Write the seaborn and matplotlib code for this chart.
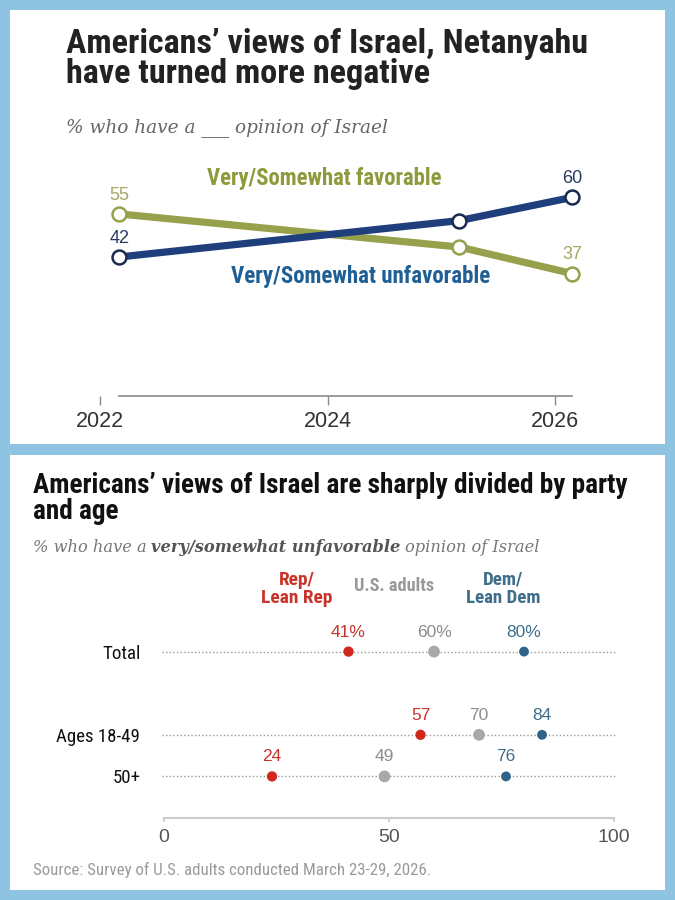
import numpy as np
import pandas as pd
import seaborn as sns
import matplotlib.pyplot as plt
from matplotlib.patches import Rectangle
from matplotlib import font_manager as fm

# ---- top chart: favorable / unfavorable over time
years = [2022.17, 2025.16, 2026.15]
favorable = [55, 45, 37]
unfavorable = [42, 53, 60]
year_ticks = [2022, 2024, 2026]

# ---- bottom chart: unfavorable by party and age
rows = ['Total', 'Ages 18-49', '50+']
groups = ['Rep/Lean Rep', 'U.S. adults', 'Dem/Lean Dem']
rep = [41, 57, 24]
adults = [60, 70, 49]
dem = [80, 84, 76]
x_ticks = [0, 50, 100]

sns.set_theme(style='white')
plt.rcParams['font.family'] = ['Liberation Sans', 'DejaVu Sans']

# pick a condensed sans for titles / labels if one is installed
fonts = fm.fontManager.ttflist
def have(name, stretch=None):
    return any(f.name == name and (stretch is None or f.stretch == stretch) for f in fonts)

if have('Liberation Sans Narrow'):
    narrow = dict(family='Liberation Sans Narrow')
elif have('Roboto Condensed'):
    narrow = dict(family='Roboto Condensed')
elif have('DejaVu Sans', 'condensed'):
    narrow = dict(family='DejaVu Sans', stretch='condensed')
elif have('DejaVu Sans Condensed'):
    narrow = dict(family='DejaVu Sans Condensed')
else:
    narrow = dict(family='Liberation Sans')

W, H = 675, 900
bg = '#8EC4E2'
olive = '#97A04A'
navy = '#1F3E7C'
serif = 'DejaVu Serif'

def box(left, top, right, bottom):
    # pixel box -> figure fraction
    return [left / W, 1 - bottom / H, (right - left) / W, (bottom - top) / H]

def ftext(px, py, s, **kw):
    return fig.text(px / W, 1 - py / H, s, **kw)

fig = plt.figure(figsize=(6.75, 9), dpi=100)
fig.patch.set_facecolor(bg)
renderer = fig.canvas.get_renderer()

def fit(t, width_px):
    # scale font so the text is as wide as in the reference
    w = t.get_window_extent(renderer).width
    t.set_fontsize(t.get_fontsize() * width_px / w)
    return t.get_fontsize()

def fit_size(s, width_px, size=12, **kw):
    t = fig.text(0, 0, s, size=size, **kw)
    out = fit(t, width_px)
    t.remove()
    return out

for top, bottom in [(10, 444), (455, 890)]:
    fig.add_artist(Rectangle((10 / W, 1 - bottom / H), 655 / W, (bottom - top) / H,
                             transform=fig.transFigure, facecolor='white',
                             edgecolor='none', zorder=-5))

# ================= top panel =================
t = ftext(66, 53, 'Americans\u2019 views of Israel, Netanyahu', size=21, weight='bold',
          color='#222222', va='baseline', **narrow)
title_size = fit(t, 521)
ftext(66, 83, 'have turned more negative', size=title_size, weight='bold',
      color='#222222', va='baseline', **narrow)
ftext(66, 132, '% who have a ___ opinion of Israel', size=13.3, style='italic',
      family=serif, color='#666666', va='baseline')

px_per_year = 113.75
ax1 = fig.add_axes(box(60, 396 - 70 * 3.31, 620, 396))
ax1.set_facecolor('none')
sns.lineplot(x=years, y=favorable, ax=ax1, color=olive, lw=5.2, marker='o',
             markersize=10, markerfacecolor='white', markeredgecolor=olive,
             markeredgewidth=1.8, zorder=2, clip_on=False)
sns.lineplot(x=years, y=unfavorable, ax=ax1, color=navy, lw=5.2, marker='o',
             markersize=10, markerfacecolor='white', markeredgecolor='#1B2A4E',
             markeredgewidth=1.8, zorder=3, clip_on=False)
ax1.set_xlim(2022 - 40 / px_per_year, 2022 + 520 / px_per_year)
ax1.set_ylim(0, 70)
ax1.set_xticks(year_ticks)
ax1.set_xticklabels([str(y) for y in year_ticks])
ax1.set_yticks([])
for s in ['top', 'right', 'left']:
    ax1.spines[s].set_visible(False)
ax1.spines['bottom'].set_bounds(years[0], years[-1])
ax1.spines['bottom'].set_color('#8a8a8a')
ax1.spines['bottom'].set_linewidth(1.2)
ax1.tick_params(axis='x', bottom=True, direction='out', length=6.5, width=1,
                color='#8a8a8a', pad=4, labelsize=15.5, labelcolor='#333333')

for i in [0, len(years) - 1]:
    ax1.annotate(str(favorable[i]), (years[i], favorable[i]), xytext=(0, 13.5),
                 textcoords='offset points', ha='center', va='center',
                 size=13, color='#A8A565')
    ax1.annotate(str(unfavorable[i]), (years[i], unfavorable[i]), xytext=(0, 13.5),
                 textcoords='offset points', ha='center', va='center',
                 size=13, color='#2B3A66')

t = ftext(324, 178, 'Very/Somewhat favorable', size=14, weight='bold', color='#8E9A3C',
          ha='center', va='center', **narrow)
fit(t, 236)
t = ftext(361, 277, 'Very/Somewhat unfavorable', size=14, weight='bold', color='#1F5F94',
          ha='center', va='center', **narrow)
fit(t, 260)

# ================= bottom panel =================
t = ftext(33, 493, 'Americans\u2019 views of Israel are sharply divided by party', size=17,
          weight='bold', color='#111111', va='baseline', **narrow)
title2_size = fit(t, 595)
ftext(33, 519, 'and age', size=title2_size, weight='bold', color='#111111',
      va='baseline', **narrow)

# subtitle with a bold middle part, placed piece by piece
pieces = [('% who have a', 'normal', '#777777'),
          ('very/somewhat unfavorable', 'bold', '#555555'),
          ('opinion of Israel', 'normal', '#777777')]
sub_size = 12
widths = []
for s, wt, c in pieces:
    tt = fig.text(0, 0, s, size=sub_size, style='italic', weight=wt, family=serif)
    widths.append(tt.get_window_extent(renderer).width)
    tt.remove()
gap = 0.32 * sub_size * 100 / 72
scale = 506 / (sum(widths) + 2 * gap)
sub_size *= scale
x = 33
for (s, wt, c), w in zip(pieces, widths):
    ftext(x, 552, s, size=sub_size, style='italic', weight=wt, family=serif,
          color=c, va='baseline')
    x += (w + gap) * scale

colors = {'Rep/Lean Rep': '#D0281C', 'U.S. adults': '#A8A8A8', 'Dem/Lean Dem': '#2F6488'}
text_colors = {'Rep/Lean Rep': '#C9342A', 'U.S. adults': '#8C8C8C', 'Dem/Lean Dem': '#3F6E8C'}
sizes = {'Rep/Lean Rep': 55, 'U.S. adults': 72, 'Dem/Lean Dem': 50}
row_pos = [0, 2, 3]

dots = pd.DataFrame({
    'row': rows * 3,
    'pos': row_pos * 3,
    'group': np.repeat(groups, len(rows)),
    'value': rep + adults + dem,
})

ax2 = fig.add_axes(box(150, 610, 630, 818))
ax2.set_facecolor('none')
ax2.hlines(row_pos, -0.5, 100.5, colors='#9a9a9a', linestyles=(0, (1, 1.6)), lw=1, zorder=1)
sns.scatterplot(data=dots, x='value', y='pos', hue='group', palette=colors,
                size='group', sizes=sizes, legend=False, linewidth=0, zorder=3,
                ax=ax2, clip_on=False)
for _, r in dots.iterrows():
    lab = f"{r['value']}%" if r['row'] == 'Total' else str(r['value'])
    ax2.annotate(lab, (r['value'], r['pos']), xytext=(0, 14), textcoords='offset points',
                 ha='center', va='center', size=12.5, color=text_colors[r['group']])

ax2.set_xlim((150 - 164) / 4.5, (630 - 164) / 4.5)
ax2.set_ylim(4, -1)
ax2.set_xlabel('')
ax2.set_ylabel('')
ax2.set_xticks(x_ticks)
ax2.set_xticklabels([str(v) for v in x_ticks])
ax2.set_yticks(row_pos)
ax2.set_yticklabels(rows, **narrow)
row_size = fit_size('Ages 18-49', 84, **narrow)
for s in ['top', 'right', 'left']:
    ax2.spines[s].set_visible(False)
ax2.spines['bottom'].set_bounds(0, 100)
ax2.spines['bottom'].set_color('#cccccc')
ax2.spines['bottom'].set_linewidth(1.5)
ax2.tick_params(axis='x', bottom=True, direction='out', length=3, width=1.2,
                color='#cccccc', pad=5, labelsize=14, labelcolor='#555555')
ax2.tick_params(axis='y', left=False, length=0, pad=7, labelsize=row_size,
                labelcolor='#111111')

t = ftext(297, 589, 'Rep/\nLean Rep', size=13, weight='bold', color='#C9342A',
          ha='center', va='center', linespacing=1.05, **narrow)
fit(t, 71)
t = ftext(394, 586, 'U.S. adults', size=13, weight='bold', color='#999999',
          ha='center', va='center', **narrow)
fit(t, 80)
t = ftext(503, 589, 'Dem/\nLean Dem', size=13, weight='bold', color='#3F6E8C',
          ha='center', va='center', linespacing=1.05, **narrow)
fit(t, 74)

t = ftext(33, 870, 'Source: Survey of U.S. adults conducted March 23-29, 2026.', size=11,
          color='#9a9a9a', va='center', **narrow)
fit(t, 398)

fig.savefig('out.png', dpi=100, facecolor=fig.get_facecolor())
